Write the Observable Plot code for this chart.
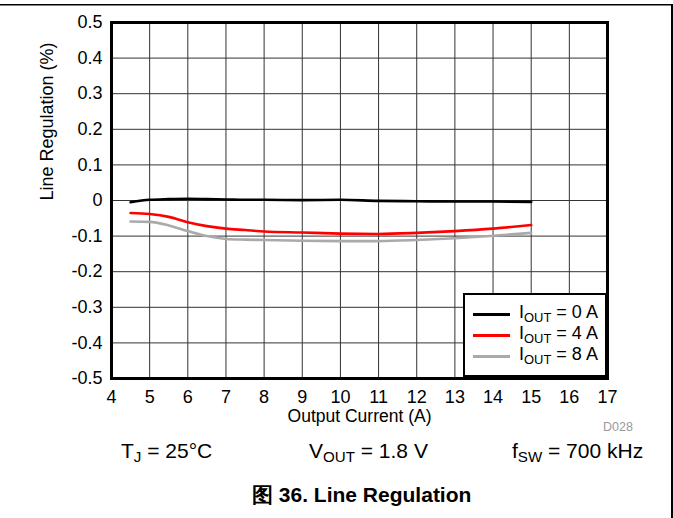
<!DOCTYPE html>
<html>
<head>
<meta charset="utf-8">
<script src="https://cdn.jsdelivr.net/npm/d3@7"></script>
<script src="https://cdn.jsdelivr.net/npm/@observablehq/plot@0.6"></script>
<style>
  html, body { margin: 0; padding: 0; background: #fff; overflow: hidden; }
  #wrap { position: relative; width: 673px; height: 518px; overflow: hidden; font-family: "Liberation Sans", Arial, sans-serif; color: #000; }
  #wrap svg { position: absolute; left: 0; top: 0; }
  .abs { position: absolute; white-space: nowrap; line-height: 1; }
  sub { font-size: 0.72em; vertical-align: -0.28em; line-height: 0; }
  #legend { position: absolute; left: 463px; top: 293px; width: 144px; height: 84px; border: 2.5px solid #000; box-sizing: border-box; background: #fff; }
  .lrow { position: absolute; left: 8px; height: 20px; font-size: 18px; white-space: nowrap; }
  .lrow .sw { position: absolute; left: 0; top: 9px; width: 37px; height: 3px; }
  .lrow .lt { position: absolute; left: 46px; top: -1px; white-space: nowrap; line-height: 1; }
</style>
</head>
<body>
<div id="wrap"></div>
<script>
// ---- data ----
const xValues = [4.5, 5, 5.5, 6, 6.5, 7, 7.5, 8, 9, 10, 11, 12, 13, 14, 15];
const iout0A = [-0.005, 0.002, 0.004, 0.005, 0.004, 0.003, 0.002, 0.002, 0.001, 0.002, -0.001, -0.002, -0.003, -0.003, -0.004];
const iout4A = [-0.035, -0.038, -0.046, -0.061, -0.072, -0.079, -0.083, -0.087, -0.090, -0.093, -0.094, -0.091, -0.086, -0.079, -0.069];
const iout8A = [-0.059, -0.060, -0.070, -0.086, -0.100, -0.108, -0.110, -0.111, -0.113, -0.114, -0.114, -0.111, -0.106, -0.099, -0.091];
const seriesNames = ["IOUT = 0 A", "IOUT = 4 A", "IOUT = 8 A"];
const seriesColors = ["#000000", "#ff0000", "#aaaaaa"];
const xTicks = [4, 5, 6, 7, 8, 9, 10, 11, 12, 13, 14, 15, 16, 17];
const yTicks = [0.5, 0.4, 0.3, 0.2, 0.1, 0, -0.1, -0.2, -0.3, -0.4, -0.5];
const yTickLabels = ["0.5", "0.4", "0.3", "0.2", "0.1", "0", "-0.1", "-0.2", "-0.3", "-0.4", "-0.5"];
const xLabel = "Output Current (A)";
const yLabel = "Line Regulation (%)";

const rows = [];
[iout0A, iout4A, iout8A].forEach((arr, s) => {
  arr.forEach((v, i) => rows.push({x: xValues[i], y: v, s: seriesNames[s]}));
});

const chart = Plot.plot({
  width: 673,
  height: 518,
  marginLeft: 111,
  marginRight: 66,
  marginTop: 22,
  marginBottom: 140,
  style: {fontFamily: '"Liberation Sans", Arial, sans-serif', fontSize: "18px", color: "#000", background: "transparent", overflow: "visible"},
  x: {domain: [4, 17]},
  y: {domain: [-0.5, 0.5]},
  color: {domain: seriesNames, range: seriesColors},
  marks: [
    Plot.gridX(xTicks, {stroke: "#333", strokeOpacity: 1, strokeWidth: 1}),
    Plot.gridY(yTicks, {stroke: "#333", strokeOpacity: 1, strokeWidth: 1}),
    Plot.line(rows, {x: "x", y: "y", z: "s", stroke: "s", strokeWidth: 2.6, curve: "monotone-x"}),
    Plot.frame({stroke: "#000", strokeWidth: 3}),
    Plot.axisX(xTicks, {tickSize: 0, tickPadding: 12, label: null, fill: "#000"}),
    Plot.axisY(yTicks, {tickSize: 0, tickPadding: 9, label: null, fill: "#000",
      tickFormat: d => yTickLabels[yTicks.indexOf(d)]}),
    Plot.text([xLabel], {frameAnchor: "bottom", dy: 43, text: d => d, fontSize: 17.5, fill: "#000"}),
    Plot.text([yLabel], {frameAnchor: "left", dx: -64, rotate: -90, text: d => d, fontSize: 18, fill: "#000"})
  ]
});

// figure border (top and right edges)
const svg = d3.select(chart);
svg.append("line").attr("x1", 0).attr("x2", 673).attr("y1", 4.75).attr("y2", 4.75)
  .attr("stroke", "#000").attr("stroke-width", 1.5);
svg.append("line").attr("x1", 672).attr("x2", 672).attr("y1", 4).attr("y2", 518)
  .attr("stroke", "#000").attr("stroke-width", 2);

const wrap = document.getElementById("wrap");
wrap.appendChild(chart);

// legend
const leg = document.createElement("div");
leg.id = "legend";
seriesNames.forEach((n, i) => {
  const r = document.createElement("div");
  r.className = "lrow";
  r.style.top = (9 + i * 21) + "px";
  const parts = n.split(" = ");
  r.innerHTML = '<div class="sw" style="background:' + seriesColors[i] + '"></div>' +
    '<div class="lt">I<sub>OUT</sub> = ' + parts[1] + '</div>';
  leg.appendChild(r);
});
wrap.appendChild(leg);

// annotations
const notes = [
  {html: 'D028', left: 603, top: 421, size: 12.5, color: "#999"},
  {html: 'T<sub>J</sub> = 25°C', left: 121, top: 440, size: 21},
  {html: 'V<sub>OUT</sub> = 1.8 V', left: 309, top: 440, size: 21},
  {html: 'f<sub>SW</sub> = 700 kHz', left: 512, top: 440, size: 21},
  {html: '<b>图 36. Line Regulation</b>', left: 252, top: 484, size: 21}
];
notes.forEach(n => {
  const d = document.createElement("div");
  d.className = "abs";
  d.style.left = n.left + "px";
  d.style.top = n.top + "px";
  d.style.fontSize = n.size + "px";
  if (n.color) d.style.color = n.color;
  d.innerHTML = n.html;
  wrap.appendChild(d);
});
</script>
</body>
</html>
